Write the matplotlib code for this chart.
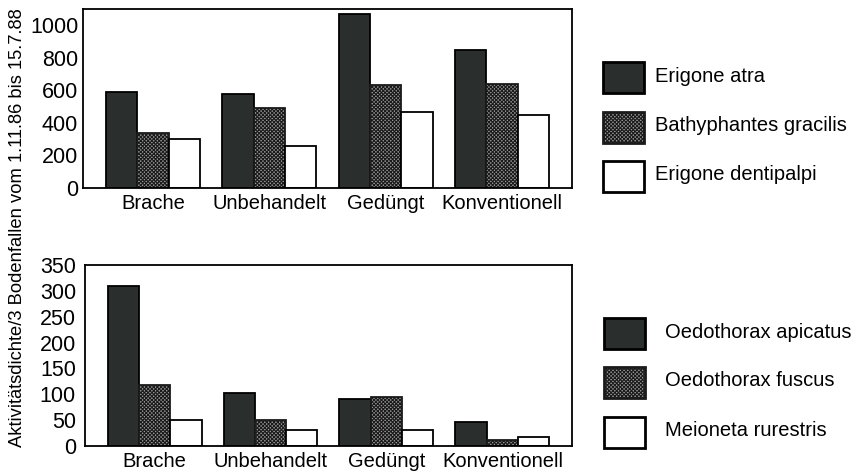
import matplotlib
matplotlib.use("Agg")
import matplotlib.pyplot as plt
from matplotlib.patches import Rectangle
import numpy as np

plt.rcParams['font.family'] = ['Liberation Sans', 'DejaVu Sans']
plt.rcParams['hatch.linewidth'] = 0.8

categories = ["Brache", "Unbehandelt", "Gedüngt", "Konventionell"]

# Upper panel
top_series = ["Erigone atra", "Bathyphantes gracilis", "Erigone dentipalpi"]
erigone_atra = [590, 580, 1070, 850]
bathyphantes_gracilis = [340, 490, 635, 640]
erigone_dentipalpi = [300, 260, 465, 450]
top_ticks = [0, 200, 400, 600, 800, 1000]

# Lower panel
bottom_series = ["Oedothorax apicatus", "Oedothorax fuscus", "Meioneta rurestris"]
oedothorax_apicatus = [310, 102, 90, 46]
oedothorax_fuscus = [117, 50, 94, 12]
meioneta_rurestris = [50, 30, 30, 17]
bottom_ticks = [0, 50, 100, 150, 200, 250, 300, 350]

ylabel = "Aktivitätsdichte/3 Bodenfallen vom 1.11.86 bis 15.7.88"

DARK = "#2a2e2d"
styles = [
    dict(facecolor=DARK, edgecolor="black", hatch=None),
    dict(facecolor="#9a9a9a", edgecolor="#1a1a1a", hatch="x" * 9),
    dict(facecolor="white", edgecolor="black", hatch=None),
]
FS_TICK = 15.5
FS = 14.5

fig = plt.figure(figsize=(8.6, 4.72), dpi=100)
ax_top = fig.add_axes([0.0965, 0.6017, 0.5685, 0.379])
ax_bot = fig.add_axes([0.0988, 0.0551, 0.5663, 0.3835])

width = 0.27
x = np.arange(len(categories))


def draw_panel(ax, data, ticks, ylim, ypad):
    for i, vals in enumerate(data):
        st = styles[i]
        ax.bar(x + (i - 1) * width, vals, width=width, facecolor=st["facecolor"],
               edgecolor=st["edgecolor"], hatch=st["hatch"], linewidth=1.3,
               zorder=2)
    ax.set_xlim(-0.6, 3.6)
    ax.set_ylim(*ylim)
    ax.set_yticks(ticks)
    ax.set_yticklabels([str(t) for t in ticks], fontsize=FS_TICK)
    ax.set_xticks(x)
    ax.set_xticklabels(categories, fontsize=FS)
    ax.tick_params(axis="x", length=0, pad=4)
    ax.tick_params(axis="y", length=0, pad=ypad)
    for s in ax.spines.values():
        s.set_linewidth(1.3)
        s.set_color("black")


draw_panel(ax_top, [erigone_atra, bathyphantes_gracilis, erigone_dentipalpi],
           top_ticks, (0, 1100), 3.5)
draw_panel(ax_bot, [oedothorax_apicatus, oedothorax_fuscus, meioneta_rurestris],
           bottom_ticks, (0, 350), 6.5)

fig.text(0.020, 0.517, ylabel, rotation=90, ha="center", va="center",
         fontsize=13.2)

W, H = 860, 472


def legend(names, x0, y_tops, text_x, text_ys):
    for i, name in enumerate(names):
        st = styles[i]
        r = Rectangle((x0 / W, 1 - (y_tops[i] + 31) / H), 41 / W, 31 / H,
                      transform=fig.transFigure, facecolor=st["facecolor"],
                      edgecolor=st["edgecolor"], hatch=st["hatch"],
                      linewidth=2.0)
        fig.add_artist(r)
        fig.text(text_x / W, 1 - text_ys[i] / H, name, fontsize=FS,
                 ha="left", va="center")


legend(top_series, 603, [62, 112, 161], 655, [77, 125, 174])
legend(bottom_series, 604, [318, 367, 417], 665, [332, 381, 430])

fig.savefig("out.png", dpi=100, facecolor="white")
